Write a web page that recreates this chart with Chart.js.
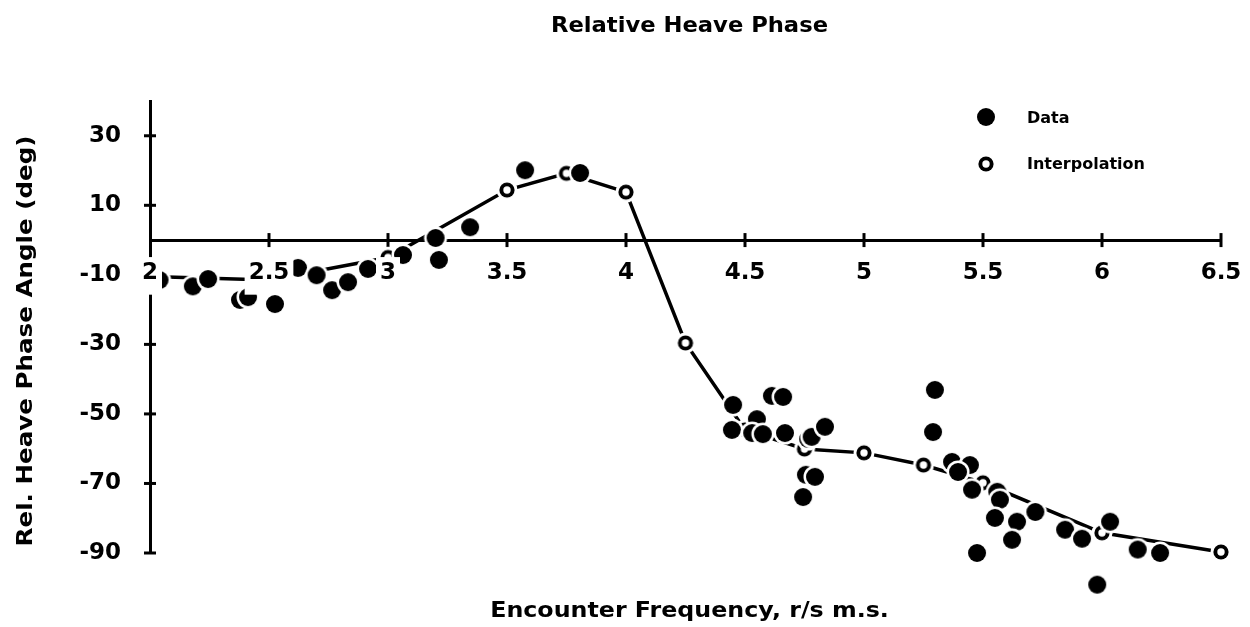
<!DOCTYPE html>
<html>
<head>
<meta charset="utf-8">
<title>Relative Heave Phase</title>
<script src="https://cdn.jsdelivr.net/npm/chart.js@4.4.1/dist/chart.umd.min.js"></script>
<style>
  html, body { margin: 0; padding: 0; background: #fff; }
  #wrap { width: 1250px; height: 627px; }
</style>
</head>
<body>
<div id="wrap"><canvas id="chart" width="1250" height="627"></canvas></div>
<script>
// Measured heave phase (encounter frequency r/s m.s., phase deg)
const dataFreq = [
  2.04, 2.18, 2.244, 2.378, 2.412, 2.525, 2.622, 2.70, 2.765, 2.832, 2.916,
  3.063, 3.20, 3.214, 3.345, 3.576, 3.807,
  4.45, 4.613, 4.66, 4.445, 4.55, 4.53, 4.575, 4.668, 4.765, 4.78, 4.836,
  4.756, 4.794, 4.744,
  5.298, 5.29, 5.37, 5.445, 5.395, 5.454, 5.56, 5.571, 5.55, 5.643, 5.622,
  5.475, 5.72, 5.845, 5.916, 6.034, 6.15, 6.244, 5.98
];
const dataPhase = [
  -11.5, -13.3, -11.2, -17.2, -16.4, -18.4, -8.0, -10.1, -14.4, -12.1, -8.3,
  -4.3, 0.6, -5.7, 3.7, 20.1, 19.3,
  -47.4, -44.8, -45.1, -54.6, -51.5, -55.5, -55.8, -55.5, -57.2, -56.6, -53.7,
  -67.5, -68.1, -73.9,
  -43.1, -55.2, -63.8, -64.7, -66.7, -71.8, -72.4, -74.7, -79.9, -81.0, -86.2,
  -90.0, -78.2, -83.3, -85.9, -81.0, -89.0, -90.0, -99.1
];

// Interpolated curve
const interpFreq  = [2.0, 2.5, 3.0, 3.5, 3.75, 4.0, 4.25, 4.5, 4.75, 5.0, 5.25, 5.5, 6.0, 6.5];
const interpPhase = [-10.5, -11.5, -5.0, 14.4, 19.2, 13.8, -29.6, -54.6, -60.1, -61.2, -64.7, -69.8, -84.2, -89.7];

// Axis ticks
const xTickValues = [2, 2.5, 3, 3.5, 4, 4.5, 5, 5.5, 6, 6.5];
const xTickLabels = ['2', '2.5', '3', '3.5', '4', '4.5', '5', '5.5', '6', '6.5'];
const yTickValues = [-90, -70, -50, -30, -10, 10, 30];
const yTickLabels = ['-90', '-70', '-50', '-30', '-10', '10', '30'];

const chartTitle = 'Relative Heave Phase';
const xTitle = 'Encounter Frequency, r/s m.s.';
const yTitle = 'Rel. Heave Phase Angle (deg)';
const seriesNames = ['Data', 'Interpolation'];

const FONT = '"DejaVu Sans", "Liberation Sans", sans-serif';

// Marker sprites: black dot / open ring, each with a white halo
function makeMarker(kind) {
  const s = 26, c = document.createElement('canvas');
  c.width = s; c.height = s;
  const g = c.getContext('2d');
  const m = s / 2;
  g.fillStyle = '#fff';
  g.beginPath(); g.arc(m, m, kind === 'filled' ? 11.5 : 10.5, 0, Math.PI * 2); g.fill();
  g.fillStyle = '#000';
  g.beginPath(); g.arc(m, m, kind === 'filled' ? 9 : 7.6, 0, Math.PI * 2); g.fill();
  if (kind === 'open') {
    g.fillStyle = '#fff';
    g.beginPath(); g.arc(m, m, 3.7, 0, Math.PI * 2); g.fill();
  }
  return c;
}
const dotFilled = makeMarker('filled');
const dotOpen = makeMarker('open');

// Tick marks that cross the axis lines
const crossTicks = {
  id: 'crossTicks',
  beforeDatasetsDraw(chart) {
    const { ctx, chartArea, scales: { x, y } } = chart;
    const y0 = y.getPixelForValue(0);
    ctx.save();
    ctx.strokeStyle = '#000';
    ctx.lineWidth = 3;
    xTickValues.forEach(v => {
      if (v === x.min) return;
      const px = x.getPixelForValue(v);
      ctx.beginPath(); ctx.moveTo(px, y0 - 7); ctx.lineTo(px, y0 + 7); ctx.stroke();
    });
    yTickValues.forEach(v => {
      const py = y.getPixelForValue(v);
      ctx.beginPath(); ctx.moveTo(chartArea.left - 6, py); ctx.lineTo(chartArea.left + 6, py); ctx.stroke();
    });
    ctx.restore();
  }
};

// Title, axis titles and legend
const textLayer = {
  id: 'textLayer',
  afterDraw(chart) {
    const { ctx, chartArea } = chart;
    const cx = (chartArea.left + chartArea.right) / 2;
    ctx.save();
    ctx.fillStyle = '#000';
    ctx.textAlign = 'center';
    ctx.textBaseline = 'alphabetic';
    ctx.font = 'bold 22px ' + FONT;
    ctx.save();
    ctx.translate(cx + 4, 32);
    ctx.scale(1.03, 1);
    ctx.fillText(chartTitle, 0, 0);
    ctx.restore();

    ctx.font = 'bold 21px ' + FONT;
    ctx.save();
    ctx.translate(cx + 4, 617);
    ctx.scale(1.13, 1);
    ctx.fillText(xTitle, 0, 0);
    ctx.restore();

    ctx.save();
    ctx.translate(32, 341);
    ctx.rotate(-Math.PI / 2);
    ctx.scale(1.17, 1);
    ctx.fillText(yTitle, 0, 0);
    ctx.restore();

    // legend
    ctx.drawImage(dotFilled, 986 - dotFilled.width / 2, 117 - dotFilled.height / 2);
    ctx.drawImage(dotOpen, 986 - dotOpen.width / 2, 164 - dotOpen.height / 2);
    ctx.textAlign = 'left';
    ctx.textBaseline = 'middle';
    ctx.font = 'bold 16px ' + FONT;
    ctx.fillText(seriesNames[0], 1027, 119);
    ctx.fillText(seriesNames[1], 1027, 165);
    ctx.restore();
  }
};

const tickFont = { family: FONT, size: 23, weight: 'bold' };
const noPadding = () => ({ left: 0, top: 0, right: 0, bottom: 0 });

new Chart(document.getElementById('chart'), {
  type: 'scatter',
  data: {
    datasets: [
      {
        label: seriesNames[0],
        data: dataFreq.map((f, i) => ({ x: f, y: dataPhase[i] })),
        pointStyle: dotFilled,
        pointRadius: 40,
        showLine: false,
        clip: false
      },
      {
        label: seriesNames[1],
        data: interpFreq.map((f, i) => ({ x: f, y: interpPhase[i] })),
        pointStyle: dotOpen,
        pointRadius: 40,
        showLine: true,
        borderColor: '#000',
        borderWidth: 3.5,
        tension: 0,
        clip: false
      }
    ]
  },
  options: {
    responsive: false,
    animation: false,
    events: [],
    layout: { autoPadding: false, padding: { left: 0, right: 29, top: 101, bottom: 74 } },
    plugins: {
      legend: { display: false },
      tooltip: { enabled: false },
      title: { display: false }
    },
    scales: {
      x: {
        type: 'linear',
        min: 2, max: 6.5,
        position: { y: 0 },
        grid: { display: false, drawTicks: false },
        border: { display: true, color: '#000', width: 3, z: 0 },
        ticks: {
          z: 1,
          padding: 19,
          font: tickFont,
          color: '#000',
          maxRotation: 0,
          autoSkip: false,
          showLabelBackdrop: true,
          backdropColor: '#fff',
          backdropPadding: { left: 4, right: 4, top: 2, bottom: 8 },
          callback: (v, i) => xTickLabels[i]
        },
        afterBuildTicks(s) { s.ticks = xTickValues.map(v => ({ value: v })); },
        afterFit(s) {
          s.height = 0;
          s.paddingLeft = 0; s.paddingRight = 0;
          s.getPadding = noPadding;
        }
      },
      y: {
        type: 'linear',
        min: -90, max: 40,
        position: 'left',
        grid: { display: false, drawTicks: false },
        border: { display: true, color: '#000', width: 3 },
        ticks: {
          padding: 29,
          font: tickFont,
          color: '#000',
          callback: (v, i) => yTickLabels[i]
        },
        afterBuildTicks(s) { s.ticks = yTickValues.map(v => ({ value: v })); },
        afterFit(s) {
          s.width = 150;
          s.paddingTop = 0; s.paddingBottom = 0;
          s.getPadding = noPadding;
        }
      }
    }
  },
  plugins: [crossTicks, textLayer]
});
</script>
</body>
</html>
